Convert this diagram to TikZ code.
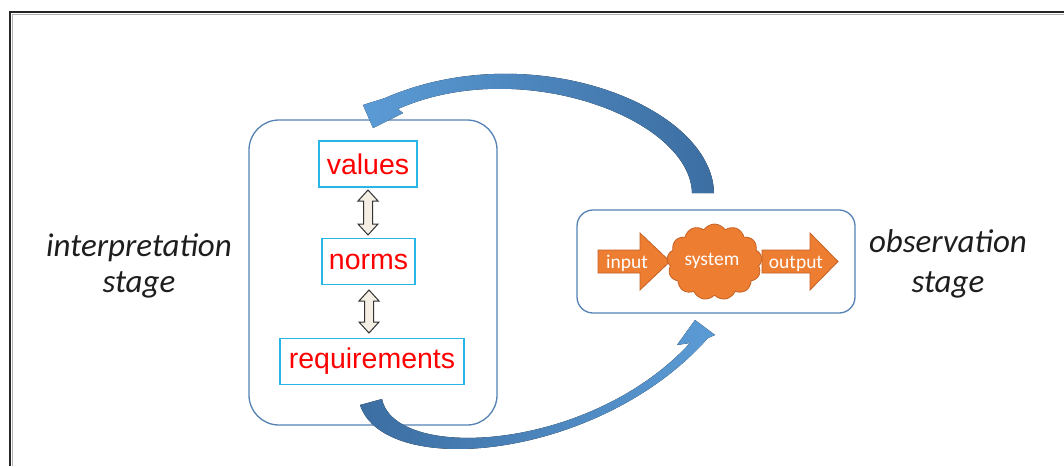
\documentclass[tikz,border=0pt]{standalone}
\usepackage{fontspec}
\usetikzlibrary{shapes.symbols}
\newfontfamily\arialf{Liberation Sans}
\newfontfamily\calf{Carlito}
\definecolor{boxblue}{RGB}{84,130,180}
\definecolor{cyanb}{RGB}{40,182,230}
\definecolor{orng}{RGB}{237,125,49}
\definecolor{orngd}{RGB}{196,98,38}
\definecolor{arrd}{RGB}{60,110,162}
\definecolor{arrl}{RGB}{91,155,213}
\definecolor{dblfill}{RGB}{245,238,228}
\definecolor{txtdark}{RGB}{30,30,30}
\begin{document}
\begin{tikzpicture}[x=1pt,y=-1pt,
  stagebox/.style={draw=boxblue, line width=1.3pt, fill=white},
  termbox/.style={draw=cyanb, line width=1.4pt, fill=white, text=red,
    font=\arialf\fontsize{28.5}{32}\selectfont, inner sep=0pt, minimum height=46pt},
  stagetext/.style={font=\calf\itshape\fontsize{33}{38}\selectfont, text=txtdark, anchor=base, inner sep=0pt},
  smalltext/.style={font=\calf\fontsize{19.5}{22}\selectfont, text=white, anchor=base, inner sep=0pt},
  dblarrow/.style={draw=black!80, line width=1pt, fill=dblfill, line join=miter},
  blockarrow/.style={fill=orng, draw=orngd, line width=0.8pt, line join=miter},
  framedark/.style={line width=2pt, black!85},
  frameshadow/.style={line width=1.2pt, black!30}
]
\useasboundingbox (0,0) rectangle (1064,466);

% frame
\draw[frameshadow] (12.5,466) -- (12.5,14.5) -- (1064,14.5);
\draw[framedark] (10,466) -- (10,12) -- (1064,12);

% stage boxes
\node[stagebox, minimum width=248pt, minimum height=305pt, rounded corners=30pt] (interp) at (373,272.5) {};
\node[stagebox, minimum width=278pt, minimum height=103pt, rounded corners=16pt] (obs) at (716,261.5) {};

% term boxes
\node[termbox, minimum width=98pt] (values) at (368,164) {values};
\node[termbox, minimum width=93pt] (norms) at (368.5,261.5) {norms};
\node[termbox, minimum width=184pt] (req) at (372,361.5) {requirements};

% double arrows
\draw[dblarrow] (368,190) -- (378,201) -- (372.5,201) -- (372.5,224) -- (378,224) -- (368,235)
  -- (358,224) -- (363.5,224) -- (363.5,201) -- (358,201) -- cycle;
\draw[dblarrow] (369,290) -- (379,301) -- (373.5,301) -- (373.5,322) -- (379,322) -- (369,333)
  -- (359,322) -- (364.5,322) -- (364.5,301) -- (359,301) -- cycle;

% input / output block arrows
\draw[blockarrow] (598,250) -- (640,250) -- (640,233) -- (670,261.5) -- (640,290) -- (640,273) -- (598,273) -- cycle;
\draw[blockarrow] (762,250) -- (810,250) -- (810,233) -- (838,261.5) -- (810,290) -- (810,273) -- (762,273) -- cycle;
\node[cloud, cloud puffs=13, cloud puff arc=115, aspect=1.3, fill=orng, draw=orngd, line width=0.8pt,
  minimum width=95pt, minimum height=76pt, inner sep=0pt] (sys) at (714.5,262) {};
\node[smalltext] (intxt) at (627,268) {input};
\node[smalltext] (systxt) at (712,265) {system};
\node[smalltext] (outtxt) at (796,268) {output};

% stage labels
\node[stagetext] (int1) at (139,256) {interpretation};
\node[stagetext] (int2) at (139,292) {stage};
\node[stagetext] (obs1) at (948,252) {observation};
\node[stagetext] (obs2) at (948,292) {stage};

% curved arrows
\fill[left color=arrl, right color=arrd]
  (714,193) .. controls (712,105) and (530,35) .. (385,98)
  -- (363,105) -- (373,128) -- (403,113) -- (398,109)
  .. controls (520,55) and (690,118) .. (692,193) -- cycle;
\fill[left color=arrd, right color=arrl]
  (360,405) .. controls (385,480) and (600,460) .. (708,338)
  -- (715,335) -- (695,320) -- (677,345) -- (690,343)
  .. controls (590,452) and (395,462) .. (382,399) -- cycle;
\end{tikzpicture}
\end{document}
